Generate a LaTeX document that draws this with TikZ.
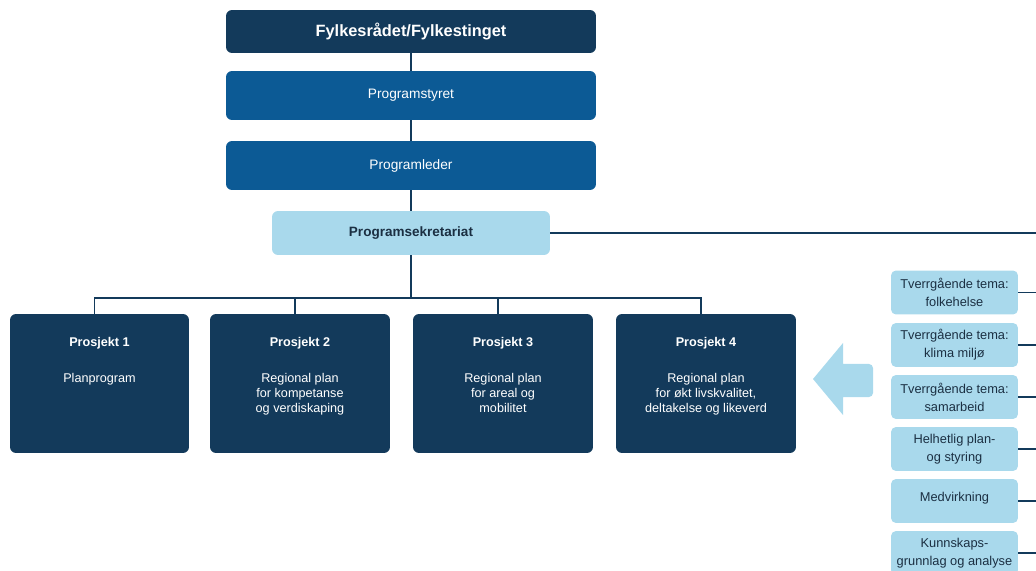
\documentclass[tikz,border=0pt]{standalone}
\usepackage{fontspec}
\setmainfont{Liberation Sans}
\definecolor{navy}{HTML}{133A5B}
\definecolor{midblue}{HTML}{0C5A95}
\definecolor{pale}{HTML}{A9D9EC}
\definecolor{ink}{HTML}{1B2F42}
\begin{document}
\begin{tikzpicture}[x=0.02cm,y=-0.02cm]
\tikzstyle{every node}=[inner sep=0pt, align=center]
\tikzstyle{board}=[rectangle, rounded corners=0.12cm, minimum width=7.4cm,
minimum height=0.98cm, fill=midblue, text=white, font=\fontsize{7.8}{9}\selectfont]
\tikzstyle{proj}=[rectangle, rounded corners=0.12cm, minimum width=3.6cm,
minimum height=2.78cm, fill=navy]
\tikzstyle{projtext}=[text=white, anchor=north, font=\fontsize{7.2}{8.6}\selectfont]
\tikzstyle{tema}=[rectangle, rounded corners=0.1cm, minimum width=2.54cm,
minimum height=0.88cm, fill=pale, text=ink, font=\fontsize{7.3}{10.2}\selectfont]
\tikzstyle{wire}=[draw=navy, line width=0.8pt]

\useasboundingbox (0,0) rectangle (1036,571);
\coordinate (rim) at (1040,0);
\coordinate (bus) at (411,298);

\draw (411,31.5)  node (top) [board, fill=navy, minimum height=0.86cm,
font=\bfseries\fontsize{9.3}{11}\selectfont] {Fylkesrådet/Fylkestinget};
\draw (411,95.5)  node (styret) [board] {Programstyret};
\draw (411,165.5) node (leder) [board] {Programleder};
\draw (411,233)   node (sekr) [board, fill=pale, text=ink, minimum width=5.56cm,
minimum height=0.88cm, font=\bfseries\fontsize{7.7}{9}\selectfont] {Programsekretariat};

\draw (99.5,383.5) node (p1) [proj, minimum width=3.58cm] {};
\draw (300,383.5)  node (p2) [proj] {};
\draw (503,383.5)  node (p3) [proj] {};
\draw (706,383.5)  node (p4) [proj] {};
\draw (99.5,337) node (p1txt) [projtext] {\textbf{Prosjekt 1}\\[12pt]Planprogram};
\draw (300,337)  node (p2txt) [projtext] {\textbf{Prosjekt 2}\\[12pt]Regional plan\\for kompetanse\\og verdiskaping};
\draw (503,337)  node (p3txt) [projtext] {\textbf{Prosjekt 3}\\[12pt]Regional plan\\for areal og\\mobilitet};
\draw (706,337)  node (p4txt) [projtext] {\textbf{Prosjekt 4}\\[12pt]Regional plan\\for økt livskvalitet,\\deltakelse og likeverd};

\draw (954.5,292.5) node (t1) [tema] {Tverrgående tema:\\folkehelse};
\draw (954.5,345)   node (t2) [tema] {Tverrgående tema:\\klima miljø};
\draw (954.5,397)   node (t3) [tema] {Tverrgående tema:\\samarbeid};
\draw (954.5,449)   node (t4) [tema] {Helhetlig plan-\\og styring};
\draw (954.5,501)   node (t5) [tema] {Medvirkning\\[-5.6pt]\mbox{}};
\draw (954.5,553)   node (t6) [tema] {Kunnskaps-\\grunnlag og analyse};

\fill [pale] (813,379) -- (843,343) -- (843,364)
  [rounded corners=0.08cm] -- (873,364) -- (873,397) [sharp corners] -- (843,397)
  -- (843,415) -- cycle;

\draw [wire] (top) -- (styret);
\draw [wire] (styret) -- (leder);
\draw [wire] (leder) -- (sekr);
\draw [wire] (sekr) -- (bus);
\draw [wire] (bus) -| ([xshift=-0.1cm]p1.north);
\draw [wire] (bus) -| ([xshift=-0.1cm]p2.north);
\draw [wire] (bus) -| ([xshift=-0.1cm]p3.north);
\draw [wire] (bus) -| ([xshift=-0.1cm]p4.north);
\draw [wire] (sekr) -- (sekr -| rim);
\foreach \t in {t1,t2,t3,t4,t5,t6}
  \draw [wire] (\t) -- (\t -| rim);
\end{tikzpicture}
\end{document}
